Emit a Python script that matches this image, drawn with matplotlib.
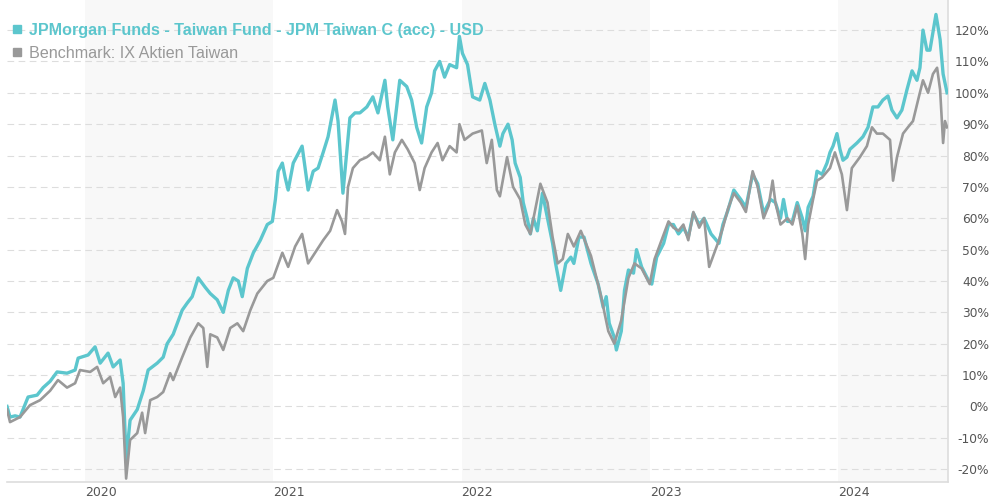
import matplotlib
matplotlib.use("Agg")
import matplotlib.pyplot as plt
from matplotlib.lines import Line2D

# time as decimal years, values in % performance
fund_t = [2019.585, 2019.601, 2019.628, 2019.654, 2019.697, 2019.745, 2019.777, 2019.814, 2019.851,
          2019.904, 2019.947, 2019.963, 2020.016, 2020.053, 2020.080, 2020.122, 2020.149, 2020.186,
          2020.202, 2020.218, 2020.239, 2020.277, 2020.309, 2020.335, 2020.383, 2020.415, 2020.436,
          2020.468, 2020.516, 2020.543, 2020.569, 2020.601, 2020.638, 2020.665, 2020.702, 2020.734,
          2020.761, 2020.787, 2020.814, 2020.835, 2020.862, 2020.894, 2020.931, 2020.968, 2020.995,
          2021.011, 2021.026, 2021.048, 2021.063, 2021.079, 2021.106, 2021.153, 2021.185, 2021.212,
          2021.238, 2021.265, 2021.291, 2021.328, 2021.344, 2021.370, 2021.407, 2021.434, 2021.460,
          2021.497, 2021.529, 2021.556, 2021.593, 2021.608, 2021.635, 2021.672, 2021.709, 2021.735,
          2021.762, 2021.788, 2021.815, 2021.841, 2021.857, 2021.884, 2021.910, 2021.937, 2021.974,
          2021.989, 2022.005, 2022.032, 2022.059, 2022.097, 2022.124, 2022.151, 2022.177, 2022.204,
          2022.220, 2022.247, 2022.269, 2022.285, 2022.312, 2022.328, 2022.349, 2022.366, 2022.382,
          2022.403, 2022.430, 2022.457, 2022.484, 2022.500, 2022.527, 2022.554, 2022.581, 2022.597,
          2022.624, 2022.651, 2022.688, 2022.726, 2022.753, 2022.769, 2022.785, 2022.812, 2022.823,
          2022.849, 2022.866, 2022.887, 2022.914, 2022.930, 2022.957, 2022.995, 2023.011, 2023.037,
          2023.074, 2023.100, 2023.126, 2023.153, 2023.179, 2023.205, 2023.232, 2023.263, 2023.289,
          2023.326, 2023.368, 2023.389, 2023.416, 2023.447, 2023.484, 2023.511, 2023.547, 2023.574,
          2023.605, 2023.642, 2023.668, 2023.695, 2023.711, 2023.732, 2023.758, 2023.784, 2023.811,
          2023.826, 2023.842, 2023.868, 2023.889, 2023.916, 2023.942, 2023.958, 2023.974, 2023.995,
          2024.011, 2024.027, 2024.048, 2024.064, 2024.101, 2024.133, 2024.160, 2024.186, 2024.213,
          2024.239, 2024.266, 2024.287, 2024.314, 2024.340, 2024.367, 2024.394, 2024.420, 2024.436,
          2024.452, 2024.473, 2024.489, 2024.521, 2024.543, 2024.559, 2024.580]
fund_v = [0, -3.4, -3, -3.4, 3, 3.6, 6, 8, 11,
          10.6, 11.6, 15.4, 16.4, 19, 13.8, 17, 12.6, 14.8,
          7.4, -17, -4.4, -1, 5, 11.6, 13.8, 15.7, 20,
          23, 30.7, 33, 35, 41, 38, 36, 34, 30,
          37, 41, 40, 35, 44, 49, 53, 58, 59,
          66, 75, 77.6, 73, 69, 77.6, 83, 69, 75,
          76, 81, 86, 97.7, 91, 68, 92, 93.6, 93.6,
          95.5, 98.7, 93.6, 104, 95.5, 85, 104, 102, 97.7,
          89, 84, 95.5, 100, 107, 110, 105, 109, 108,
          118, 112.6, 109, 98.7, 97.7, 103, 97.7, 90, 83,
          87, 90, 85, 77.6, 73, 65, 60, 55, 60,
          56, 68, 60, 52, 45.6, 37, 45.6, 47.6, 45.6,
          54, 54, 45.6, 39, 31.6, 35, 26.5, 22, 18,
          24, 37, 43.5, 42.5, 50, 44.5, 40, 39, 47.6,
          52, 58, 58, 55, 57, 54, 61.6, 58, 60,
          55, 52, 58, 62.6, 69, 66, 63.5, 74, 71,
          61.6, 66, 65, 60, 66, 59, 59, 65, 60,
          56, 63.5, 67, 75, 74, 77.6, 81, 83, 87,
          82, 78.5, 79.5, 82, 84, 86, 89, 95.5, 95.5,
          97.7, 99, 94.5, 92, 94.5, 101, 107, 104, 108,
          120, 113.6, 113.6, 125, 117, 106, 100]

bench_t = [2019.585, 2019.601, 2019.654, 2019.707, 2019.761, 2019.814, 2019.856, 2019.904, 2019.947,
           2019.973, 2020.027, 2020.064, 2020.096, 2020.133, 2020.160, 2020.186, 2020.202, 2020.218,
           2020.239, 2020.277, 2020.303, 2020.319, 2020.346, 2020.383, 2020.415, 2020.452, 2020.468,
           2020.516, 2020.559, 2020.601, 2020.628, 2020.649, 2020.665, 2020.702, 2020.734, 2020.771,
           2020.809, 2020.840, 2020.878, 2020.915, 2020.968, 2021.000, 2021.048, 2021.079, 2021.116,
           2021.153, 2021.185, 2021.222, 2021.265, 2021.302, 2021.339, 2021.365, 2021.381, 2021.397,
           2021.423, 2021.460, 2021.497, 2021.529, 2021.566, 2021.593, 2021.619, 2021.646, 2021.683,
           2021.714, 2021.751, 2021.778, 2021.804, 2021.841, 2021.873, 2021.899, 2021.937, 2021.974,
           2021.989, 2022.016, 2022.059, 2022.108, 2022.134, 2022.161, 2022.188, 2022.204, 2022.242,
           2022.274, 2022.312, 2022.339, 2022.366, 2022.419, 2022.457, 2022.484, 2022.511, 2022.538,
           2022.565, 2022.597, 2022.634, 2022.688, 2022.742, 2022.780, 2022.812, 2022.849, 2022.887,
           2022.919, 2022.957, 2023.000, 2023.026, 2023.100, 2023.126, 2023.153, 2023.179, 2023.205,
           2023.232, 2023.263, 2023.289, 2023.316, 2023.368, 2023.389, 2023.416, 2023.447, 2023.484,
           2023.511, 2023.547, 2023.574, 2023.605, 2023.632, 2023.653, 2023.668, 2023.695, 2023.732,
           2023.758, 2023.784, 2023.811, 2023.826, 2023.842, 2023.868, 2023.889, 2023.916, 2023.958,
           2023.984, 2024.021, 2024.048, 2024.074, 2024.117, 2024.154, 2024.181, 2024.207, 2024.239,
           2024.277, 2024.293, 2024.314, 2024.346, 2024.372, 2024.399, 2024.426, 2024.452, 2024.479,
           2024.505, 2024.527, 2024.543, 2024.559, 2024.569, 2024.580]
bench_v = [-1, -5, -3.4, 0.4, 2, 5, 8.4, 6, 7.4,
           11.6, 11, 12.6, 7.4, 9.4, 3, 6, -3.4, -23,
           -10.7, -8.5, -2, -8.5, 2, 3, 4.6, 10.6, 8.4,
           15.7, 22, 26.5, 25, 12.6, 23, 22, 18, 25,
           26.5, 24, 30.7, 36, 40, 41, 49, 44.5, 51,
           55, 45.6, 49, 53, 56, 62.6, 59, 55, 70,
           76, 78.5, 79.5, 81, 78.5, 86, 74, 81, 85,
           82, 77.6, 69, 76, 81, 84, 78.5, 83, 81,
           90, 85, 87, 88, 77.6, 85, 69, 67, 79.5,
           70, 66, 58, 55, 71, 65, 54, 45.6, 47,
           55, 51, 56, 48, 35, 24, 20, 27.5, 41,
           45.6, 44, 39, 47, 59, 57, 56, 58, 53,
           62, 57, 60, 44.5, 53, 57, 63, 68, 65,
           62, 75, 70, 60, 64, 72, 65, 58, 60,
           58, 64, 55, 47, 58, 66, 72, 73, 76,
           81, 74, 62.6, 76, 79.5, 83, 89, 87, 87,
           85, 72, 79.5, 87, 89, 91, 97.7, 104, 100,
           106, 108, 101, 84, 91, 89]

years = [2020, 2021, 2022, 2023, 2024]
pct_ticks = list(range(-20, 130, 10))

fund_name = "JPMorgan Funds - Taiwan Fund - JPM Taiwan C (acc) - USD"
bench_name = "Benchmark: IX Aktien Taiwan"
teal = "#5cc6cd"
grey = "#999999"

fig = plt.figure(figsize=(9.9, 5.0), dpi=100)
ax = fig.add_axes([7 / 990, 18 / 500, 941 / 990, 482 / 500])

# alternating year shading
for y0 in [2020, 2022, 2024]:
    ax.axvspan(y0, y0 + 1, color="#f8f8f8", lw=0, zorder=0)

ax.plot(fund_t, fund_v, color=teal, lw=2.4, zorder=3, solid_joinstyle="round")
ax.plot(bench_t, bench_v, color=grey, lw=1.9, zorder=4, solid_joinstyle="round")

ax.set_xlim(2019.585, 2024.585)
ax.set_ylim(-24.1, 129.6)

ax.set_yticks(pct_ticks)
ax.set_yticklabels([f"{p}%" for p in pct_ticks])
ax.yaxis.tick_right()
ax.tick_params(axis="y", length=0, pad=29.5, labelsize=8.8, labelcolor="#555555")
for lab in ax.get_yticklabels():
    lab.set_horizontalalignment("right")
ax.grid(True, axis="y", ls=(0, (6, 4)), lw=0.8, color="#dddddd", zorder=1)

ax.set_xticks(years)
ax.set_xticklabels([str(y) for y in years])
ax.tick_params(axis="x", length=0, pad=3, labelsize=9, labelcolor="#555555")
for lab in ax.get_xticklabels():
    lab.set_horizontalalignment("left")

for side in ["left", "top"]:
    ax.spines[side].set_visible(False)
for side in ["right", "bottom"]:
    ax.spines[side].set_color("#dddddd")
    ax.spines[side].set_linewidth(1.2)

handles = [Line2D([], [], ls="", marker="s", ms=6, color=teal),
           Line2D([], [], ls="", marker="s", ms=6, color=grey)]
leg = ax.legend(handles, [fund_name, bench_name], loc="upper left",
                bbox_to_anchor=(0.003, 0.96), frameon=False, handlelength=0.5,
                handletextpad=0.5, labelspacing=0.5, borderaxespad=0.0,
                borderpad=0.2, prop={"family": "Liberation Sans", "size": 11.6})
leg.set_zorder(10)
t1, t2 = leg.get_texts()
t1.set_color(teal)
t1.set_fontweight("bold")
t2.set_color(grey)

fig.savefig("out.png", dpi=100)
